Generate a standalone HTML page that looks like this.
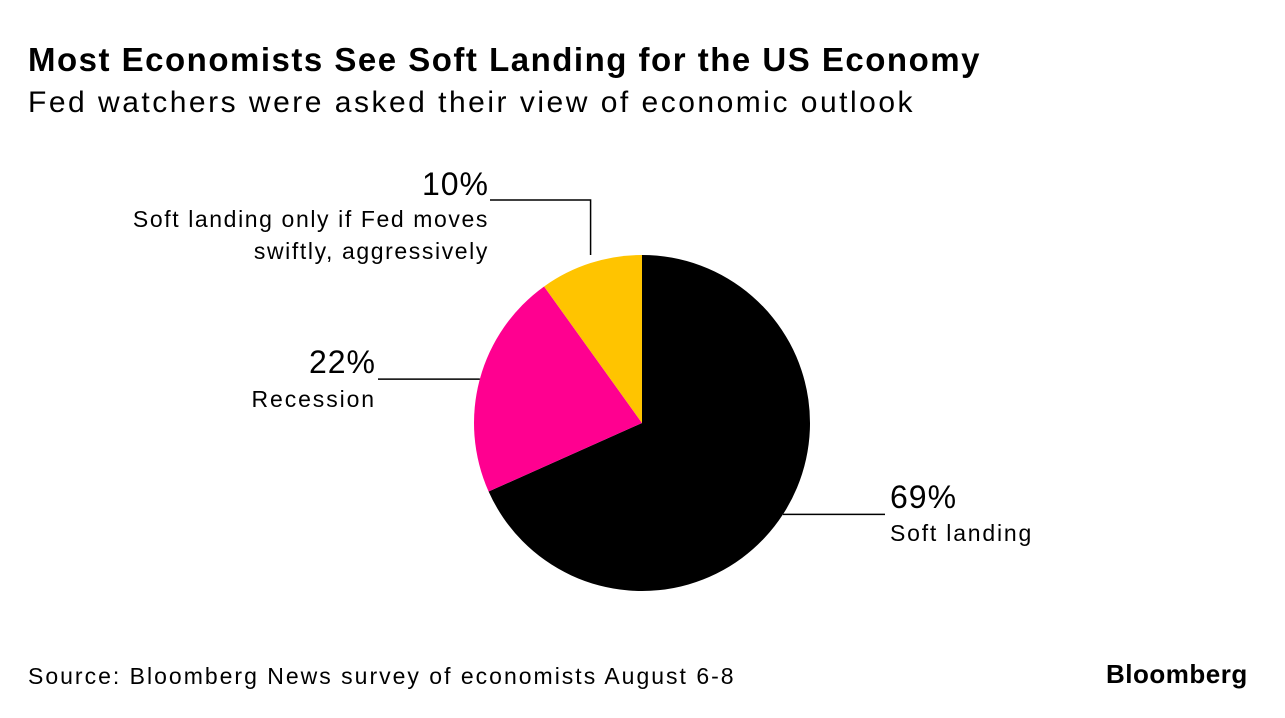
<!DOCTYPE html>
<html><head><meta charset="utf-8"><style>
body{margin:0;background:#fff;width:1285px;height:718px;overflow:hidden;font-family:"Liberation Sans",Arial,sans-serif;}
.t{position:absolute;left:28px;top:41px;font-size:33px;font-weight:bold;letter-spacing:1.5px;color:#000;white-space:nowrap}
.s{position:absolute;left:28px;top:86px;font-size:30px;letter-spacing:2.5px;color:#000;white-space:nowrap}
.src{position:absolute;left:28px;top:663px;font-size:23px;letter-spacing:2px;color:#000;white-space:nowrap}
.logo{position:absolute;left:1106px;top:659px;font-size:26px;font-weight:bold;letter-spacing:0.5px;white-space:nowrap}
</style></head><body>
<div class="t">Most Economists See Soft Landing for the US Economy</div>
<div class="s">Fed watchers were asked their view of economic outlook</div>
<svg id="c" width="1285" height="718" style="position:absolute;left:0;top:0"></svg>
<div class="src">Source: Bloomberg News survey of economists August 6-8</div>
<div class="logo">Bloomberg</div>
<script>
const categories=["Soft landing","Recession","Soft landing only if Fed moves swiftly, aggressively"];
const values=[69,22,10];
const colors=["#000000","#ff0090","#ffc400"];
const svg=document.getElementById('c');const NS="http://www.w3.org/2000/svg";
const cx=642,cy=423,r=168;
const total=values.reduce((a,b)=>a+b,0);
let a0=0;
function pt(a,rr){return [cx+rr*Math.sin(a),cy-rr*Math.cos(a)];}
const mids=[];
values.forEach((v,i)=>{
 const a1=a0+v/total*2*Math.PI;
 const p0=pt(a0,r),p1=pt(a1,r);
 const large=(a1-a0)>Math.PI?1:0;
 const p=document.createElementNS(NS,'path');
 p.setAttribute('d',`M${cx},${cy}L${p0[0]},${p0[1]}A${r},${r} 0 ${large} 1 ${p1[0]},${p1[1]}Z`);
 p.setAttribute('fill',colors[i]);
 
 
 svg.appendChild(p);
 mids.push((a0+a1)/2);
 a0=a1;
});
function line(d,name){const l=document.createElementNS(NS,'path');l.setAttribute('d',d);l.setAttribute('stroke','#000');l.setAttribute('stroke-width','1.5');l.setAttribute('fill','none');


svg.appendChild(l);}
function text(x,y,s,size,anchor,name,ls){const t=document.createElementNS(NS,'text');t.setAttribute('x',x);t.setAttribute('y',y);t.setAttribute('font-size',size);t.setAttribute('text-anchor',anchor);t.setAttribute('font-family','Liberation Sans, Arial, sans-serif');t.setAttribute('letter-spacing',ls);t.textContent=s;


svg.appendChild(t);}
let m=pt(mids[0],r);
line(`M${m[0]},${m[1]}H885`,'leader-soft-landing');
text(890,508,values[0]+'%',32,'start','value-soft-landing',1);
text(890,541,categories[0],23,'start','label-soft-landing',1.8);
m=pt(mids[1],r);
line(`M${m[0]},${m[1]}H378`,'leader-recession');
text(376,373,values[1]+'%',32,'end','value-recession',1);
text(376,407,categories[1],23,'end','label-recession',1.9);
m=pt(mids[2],r);
line(`M${m[0]},${m[1]-8}V200H490`,'leader-conditional');
text(489,195,values[2]+'%',32,'end','value-conditional',1);
text(489,227,"Soft landing only if Fed moves",23,'end','label-conditional-1',1.6);
text(489,259,"swiftly, aggressively",23,'end','label-conditional-2',1.6);
</script>
</body></html>
